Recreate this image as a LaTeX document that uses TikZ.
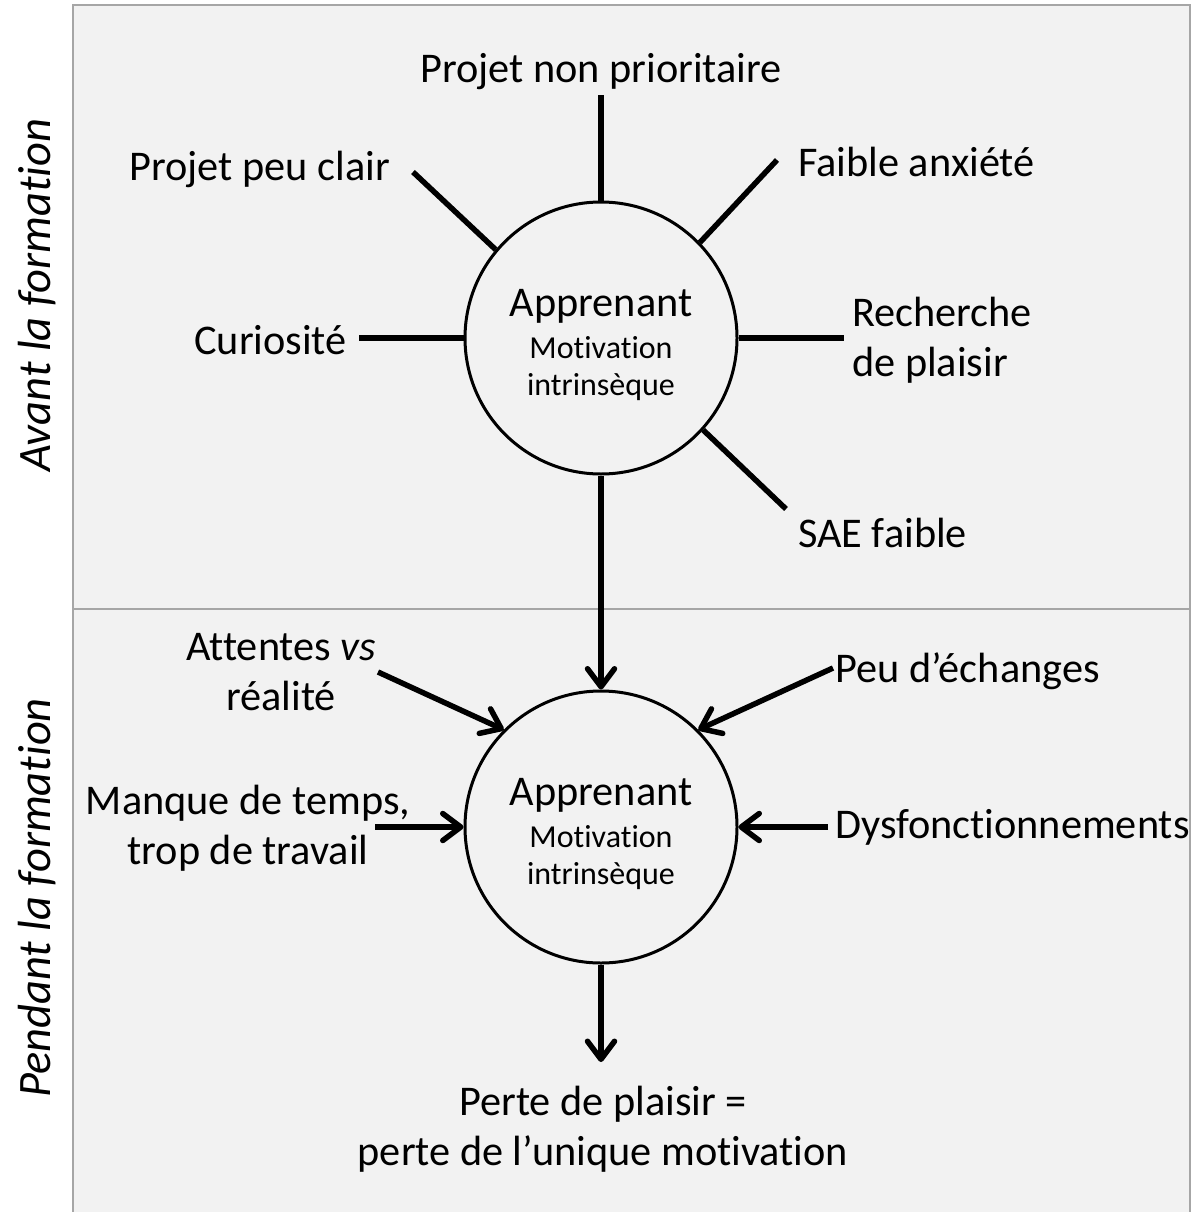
\documentclass[tikz,border=0pt]{standalone}
\usepackage{fontspec}
\setmainfont{Carlito}[Ligatures={NoCommon}]
\usetikzlibrary{arrows.meta,calc}

\definecolor{panelgrey}{HTML}{F2F2F2}
\definecolor{framegrey}{HTML}{A6A6A6}

\tikzset{
  bigfont/.style={font=\fontsize{42.3}{50}\selectfont},
  lbl/.style={bigfont, inner sep=0pt},
  lbllines/.style={lbl, align=center},
  sidelbl/.style={inner sep=0pt, rotate=90, font=\fontsize{46.5}{56}\selectfont\itshape},
  apprenant/.style={circle, draw, line width=3pt, minimum size=272pt, inner sep=0pt,
    align=center, font=\fontsize{32}{37}\selectfont},
  spoke/.style={line width=5.5pt},
  arr/.style={line width=5.5pt, -{Straight Barb[length=18pt,width=27pt,round]}},
  panel/.style={fill=panelgrey, draw=framegrey, line width=2.5pt},
}

\newcommand{\learnertext}{{\fontsize{42.3}{50}\selectfont\rule{0pt}{42pt}Apprenant}\\[5pt]Motivation\\intrinsèque}

\begin{document}
\begin{tikzpicture}[x=1pt,y=-1pt]
  \useasboundingbox (0,0) rectangle (1194,1212);

  % Panels
  \draw[panel] (73,5) rectangle (1190,609);
  \draw[panel] (73,609) rectangle (1190,1220);
  \node[sidelbl] (avant) at (37,295) {Avant la formation};
  \node[sidelbl] (pendant) at (37,898) {Pendant la formation};

  % Learner circles
  \node[apprenant] (app1) at (601,338) {\learnertext};
  \node[apprenant] (app2) at (601,827) {\learnertext};

  % Before the training
  \node[lbl, anchor=base] (npr) at (601,83) {Projet non prioritaire};
  \node[lbl, anchor=base east] (pcl) at (390,180) {Projet peu clair};
  \node[lbl, anchor=base west] (fan) at (798,176) {Faible anxiété};
  \node[lbl, anchor=base east] (cur) at (347,354) {Curiosité};
  \node[lbllines, align=left, anchor=west] (rec) at (852,340) {Recherche\\de plaisir};
  \node[lbl, anchor=base west] (sae) at (798,547) {SAE faible};

  \coordinate (npr-end) at (601,95);
  \coordinate (pcl-end) at (413,172);
  \coordinate (fan-end) at (777,160);
  \coordinate (cur-end) at (359,338);
  \coordinate (rec-end) at (844,338);
  \coordinate (sae-end) at (786,509);

  \foreach \a/\c in {90/npr,140/pcl,44/fan,180/cur,0/rec,-42/sae}{
  \draw[spoke] (app1.\a) -- (\c-end);
  }

  \draw[arr] (app1.south) -- (app2.north);

  % During the training
  \node[lbllines] (att) at (281,672) {Attentes \textit{vs}\\réalité};
  \node[lbl, anchor=base west] (ech) at (835,682) {Peu d’échanges};
  \node[lbllines] (man) at (248,828) {Manque de temps,\\trop de travail};
  \node[lbl, anchor=base west] (dys) at (835,838) {Dysfonctionnements};
  \node[lbllines] (perte) at (603,1129) {Perte de plaisir =\\perte de l’unique motivation};

  \coordinate (att-end) at (378,672);
  \coordinate (ech-end) at (833,668);
  \coordinate (man-end) at (375,827);
  \coordinate (dys-end) at (828,827);
  \coordinate (perte-end) at (601,1062);

  \foreach \a/\c in {135/att,45/ech,180/man,0/dys}{
  \draw[arr] (\c-end) -- (app2.\a);
  }

  \draw[arr] (app2.south) -- (perte-end);

\end{tikzpicture}
\end{document}
